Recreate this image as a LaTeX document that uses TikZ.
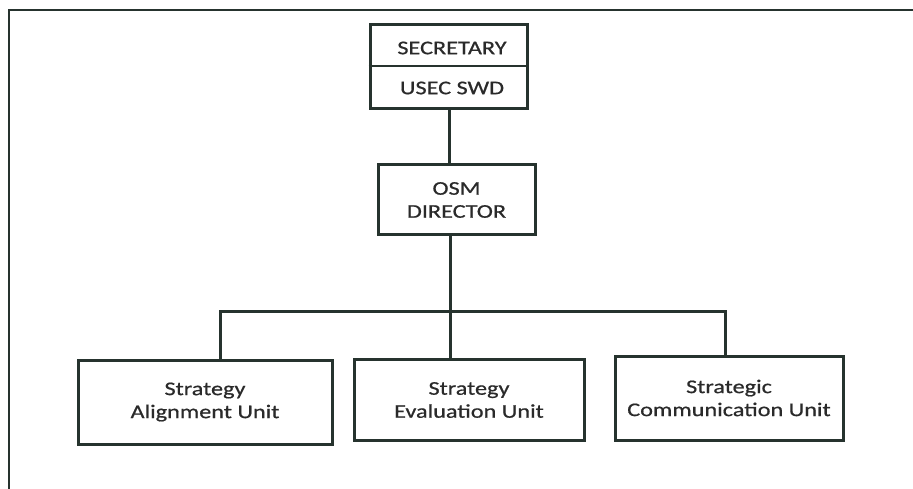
\documentclass[tikz,border=0pt]{standalone}
\usepackage{fontspec}
\newfontfamily\lab[FakeStretch=1.25,FakeBold=0.7]{Carlito}
\definecolor{ln}{HTML}{26332E}
\definecolor{tx}{HTML}{2A2A2A}
\begin{document}
\begin{tikzpicture}[x=1pt,y=-1pt,
  box/.style={draw=ln,line width=3pt,rectangle,inner sep=0pt},
  lbl/.style={text=tx,font=\lab\fontsize{19.4}{23}\selectfont,align=center,inner sep=0pt},
  conn/.style={draw=ln,line width=3pt}]
\useasboundingbox (0,0) rectangle (913,489);
% frame (left and top edges)
\draw[ln,line width=2.4pt] (9,489) -- (9,10) -- (913,10);
% top box
\node[box,minimum width=157pt,minimum height=84pt] (sec) at (448.5,67) {};
\draw[ln,line width=1.8pt] ([yshift=1pt]sec.west) -- ([yshift=1pt]sec.east);
\node[lbl] (sec1) at (452,48) {SECRETARY};
\node[lbl] (sec2) at (452,88) {USEC SWD};
% director
\node[box,minimum width=157pt,minimum height=70pt,lbl] (osm) at (456.5,200) {OSM\\DIRECTOR};
% units
\node[box,minimum width=254pt,minimum height=84pt,lbl] (align) at (205,402) {Strategy\\Alignment Unit};
\node[box,minimum width=230pt,minimum height=81pt,lbl] (eval) at (469,400) {Strategy\\Evaluation Unit};
\node[box,minimum width=228pt,minimum height=84pt,lbl] (comm) at (729,398) {Strategic\\Communication Unit};
% connectors
\coordinate (top) at (449,0);
\coordinate (j) at (450,311);
\coordinate (jl) at (220,311);
\coordinate (jr) at (725,311);
\draw[conn] (sec.south -| top) -- (osm.north -| top);
\draw[conn] (osm.south -| j) -- (j) -- (eval.north -| j);
\draw[conn] (align.north -| jl) -- (jl) -- (jr) -- (comm.north -| jr);
\end{tikzpicture}
\end{document}
